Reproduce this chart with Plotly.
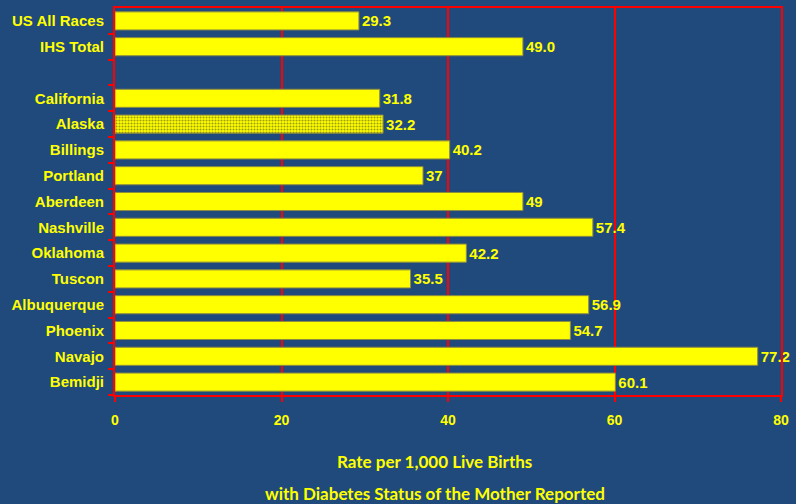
import plotly.graph_objects as go

# Rates of diabetes-status-reported births, per 1,000 live births
categories = ["US All Races", "IHS Total", " ", "California", "Alaska", "Billings",
              "Portland", "Aberdeen", "Nashville", "Oklahoma", "Tuscon",
              "Albuquerque", "Phoenix", "Navajo", "Bemidji"]
rates = [29.3, 49.0, None, 31.8, 32.2, 40.2, 37, 49, 57.4, 42.2, 35.5,
         56.9, 54.7, 77.2, 60.1]
rate_labels = ["29.3", "49.0", "", "31.8", "32.2", "40.2", "37", "49", "57.4",
               "42.2", "35.5", "56.9", "54.7", "77.2", "60.1"]
x_ticks = [0, 20, 40, 60, 80]

BG = "#214a7c"
YELLOW = "#ffff00"
RED = "#ff0000"

patterns = ["." if c == "Alaska" else "" for c in categories]

fig = go.Figure(go.Bar(
    y=categories,
    x=rates,
    orientation="h",
    width=0.7,
    text=rate_labels,
    texttemplate="<b>%{text}</b>",
    textposition="outside",
    cliponaxis=False,
    textfont=dict(family="Liberation Sans, Arial", size=15, color=YELLOW),
    marker=dict(
        color=YELLOW,
        line=dict(color="#8c8c40", width=1),
        pattern=dict(shape=patterns, fgcolor="#3c3c14", bgcolor=YELLOW,
                     size=3, solidity=0.4),
    ),
    hoverinfo="skip",
))

fig.update_layout(
    width=796, height=504,
    margin=dict(l=115, r=15, t=6, b=109),
    paper_bgcolor=BG,
    plot_bgcolor=BG,
    showlegend=False,
    font=dict(family="Liberation Sans, Arial", color=YELLOW),
    uniformtext=dict(minsize=15, mode="show"),
)

fig.update_xaxes(
    range=[0, 80],
    tickvals=x_ticks,
    ticktext=[f"<b>{t}</b>" for t in x_ticks],
    showgrid=True, gridcolor=RED, gridwidth=1.5,
    showline=True, linecolor=RED, linewidth=2, mirror=True,
    ticks="outside", tickcolor=RED, ticklen=5, tickwidth=2,
    tickfont=dict(family="Liberation Sans, Arial", size=14, color=YELLOW),
    ticklabelstandoff=6,
    zeroline=False,
)

fig.update_yaxes(
    categoryorder="array",
    categoryarray=categories[::-1],
    tickvals=categories,
    ticktext=[f"<b>{c}</b>" for c in categories],
    range=[-0.5, len(categories) - 0.5],
    showgrid=False,
    showline=True, linecolor=RED, linewidth=2, mirror=True,
    ticks="outside", tickcolor=RED, ticklen=5, tickwidth=2,
    tickson="boundaries",
    tickfont=dict(family="Liberation Sans, Arial", size=15, color=YELLOW),
    ticklabelstandoff=6,
)

# Two-line axis caption under the plot
for line, yshift in [("Rate per 1,000 Live Births", -66),
                     ("with Diabetes Status of the Mother Reported", -98)]:
    fig.add_annotation(
        text=f"<b>{line}</b>",
        xref="paper", yref="paper", x=0.48, y=0,
        xanchor="center", yanchor="middle", yshift=yshift,
        showarrow=False,
        font=dict(family="Lato, Open Sans", size=17, color=YELLOW),
    )

fig.write_html("out.html")
